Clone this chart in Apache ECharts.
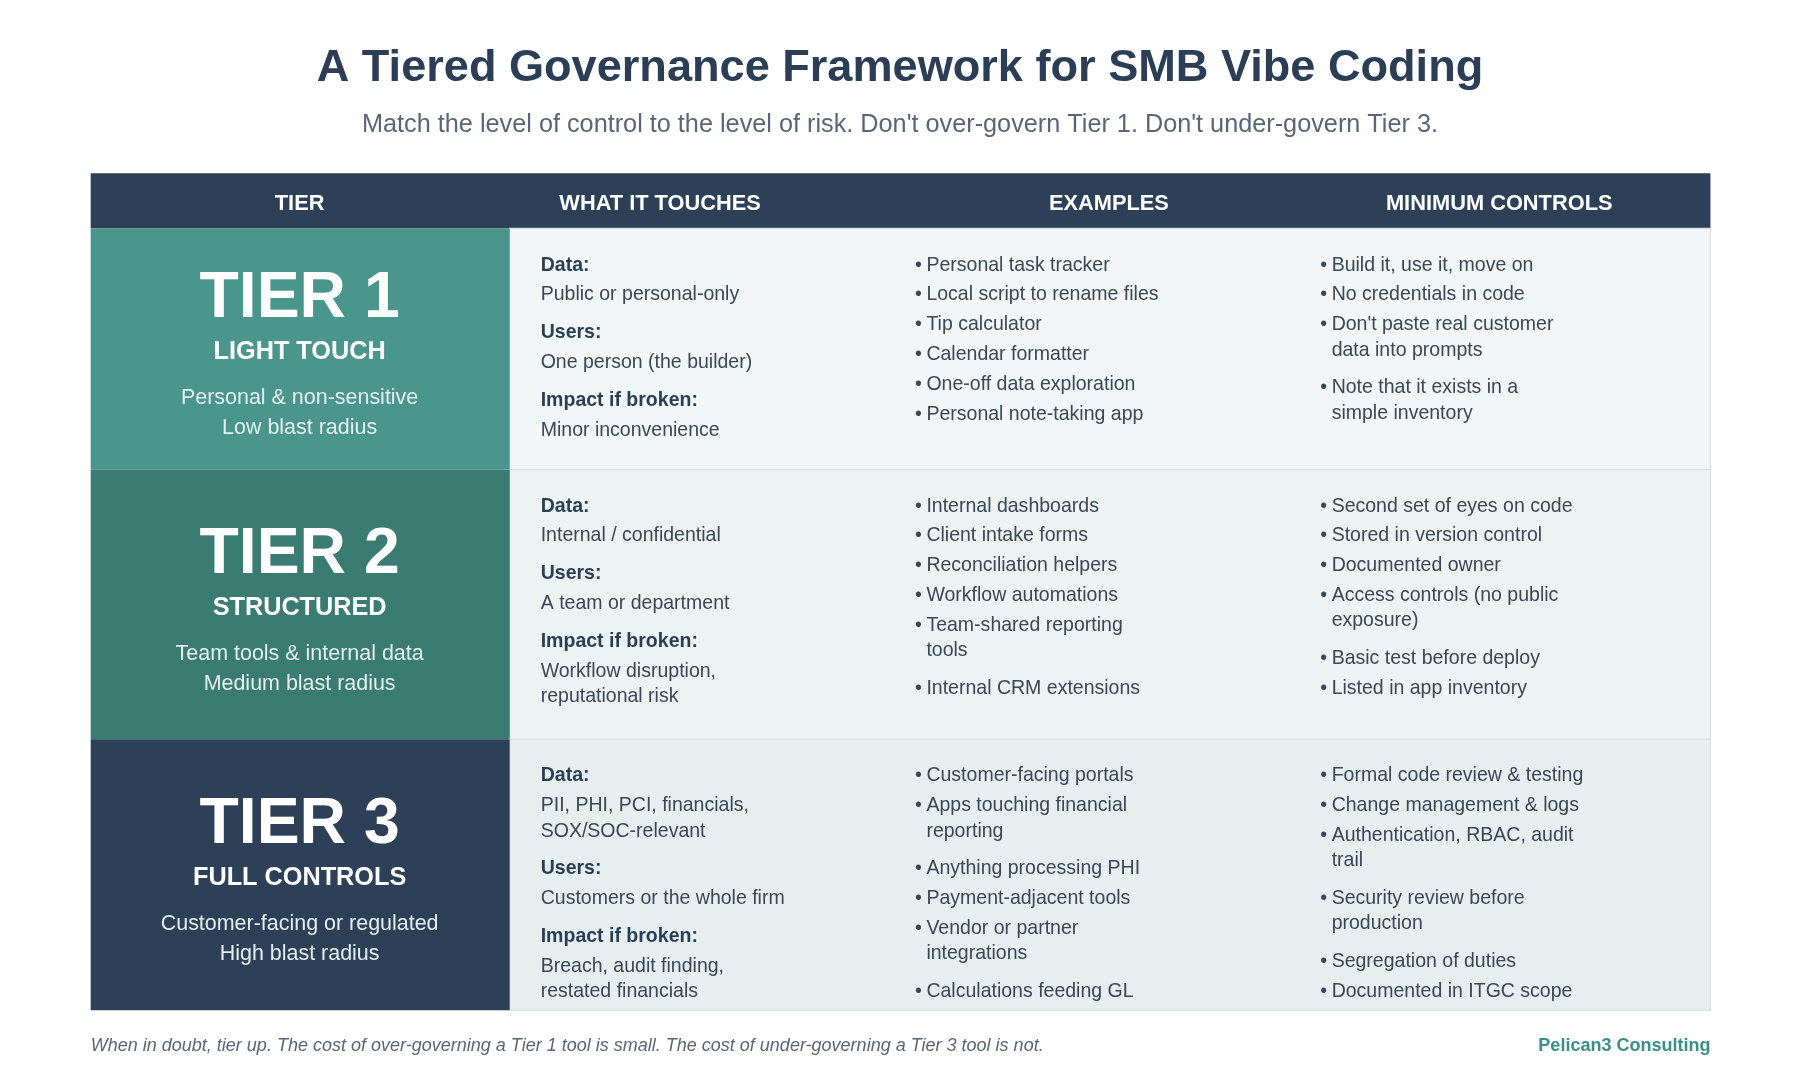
<!DOCTYPE html>
<html><head><meta charset="utf-8">
<script src="https://cdn.jsdelivr.net/npm/echarts@6/dist/echarts.min.js"></script>
<style>html,body{margin:0;padding:0;background:#fff}#c{width:1800px;height:1080px}</style>
</head><body><div id="c"></div>
<script>
const title = "A Tiered Governance Framework for SMB Vibe Coding";
const subtitle = "Match the level of control to the level of risk. Don't over-govern Tier 1. Don't under-govern Tier 3.";
const headers = ["TIER", "WHAT IT TOUCHES", "EXAMPLES", "MINIMUM CONTROLS"];
const tierNames = ["TIER 1", "TIER 2", "TIER 3"];
const tierSubs = ["LIGHT TOUCH", "STRUCTURED", "FULL CONTROLS"];
const tierDesc = [
  ["Personal & non-sensitive", "Low blast radius"],
  ["Team tools & internal data", "Medium blast radius"],
  ["Customer-facing or regulated", "High blast radius"]
];
const touches = [
  [["Data:", ["Public or personal-only"]], ["Users:", ["One person (the builder)"]], ["Impact if broken:", ["Minor inconvenience"]]],
  [["Data:", ["Internal / confidential"]], ["Users:", ["A team or department"]], ["Impact if broken:", ["Workflow disruption,", "reputational risk"]]],
  [["Data:", ["PII, PHI, PCI, financials,", "SOX/SOC-relevant"]], ["Users:", ["Customers or the whole firm"]], ["Impact if broken:", ["Breach, audit finding,", "restated financials"]]]
];
const examples = [
  [["Personal task tracker"], ["Local script to rename files"], ["Tip calculator"], ["Calendar formatter"], ["One-off data exploration"], ["Personal note-taking app"]],
  [["Internal dashboards"], ["Client intake forms"], ["Reconciliation helpers"], ["Workflow automations"], ["Team-shared reporting", "tools"], ["Internal CRM extensions"]],
  [["Customer-facing portals"], ["Apps touching financial", "reporting"], ["Anything processing PHI"], ["Payment-adjacent tools"], ["Vendor or partner", "integrations"], ["Calculations feeding GL"]]
];
const controls = [
  [["Build it, use it, move on"], ["No credentials in code"], ["Don't paste real customer", "data into prompts"], ["Note that it exists in a", "simple inventory"]],
  [["Second set of eyes on code"], ["Stored in version control"], ["Documented owner"], ["Access controls (no public", "exposure)"], ["Basic test before deploy"], ["Listed in app inventory"]],
  [["Formal code review & testing"], ["Change management & logs"], ["Authentication, RBAC, audit", "trail"], ["Security review before", "production"], ["Segregation of duties"], ["Documented in ITGC scope"]]
];
const footnote = "When in doubt, tier up. The cost of over-governing a Tier 1 tool is small. The cost of under-governing a Tier 3 tool is not.";
const brand = "Pelican3 Consulting";

const FF = '"Liberation Sans", Arial, sans-serif';
const DARK = '#2e4058', TXT = '#3b4656';
const tierColors = ['#4a968c', '#3a7b72', '#2e4058'];
const rowBg = ['#f2f6f6', '#edf3f3', '#e7eef0'];
const rowY = [199, 409, 644, 880];
const L = 79, R = 1490, split = 444;
const DY = 2;
const els = [];
function T(x, y, text, size, color, opts) {
  opts = opts || {};
  els.push({type: 'text', x: x, y: y + DY, style: {text: text, fontSize: size, fill: color, fontFamily: FF,
    fontWeight: opts.bold ? 'bold' : 'normal', fontStyle: opts.italic ? 'italic' : 'normal',
    textAlign: opts.align || 'left', textVerticalAlign: 'middle'}});
}
T(784, 58, title, 39.3, '#2c3e55', {bold: true, align: 'center'});
T(784, 107, subtitle, 22, '#5a6678', {align: 'center'});
els.push({type: 'rect', shape: {x: L, y: 151, width: R - L, height: 48}, style: {fill: DARK}});
[261, 575, 966, 1306].forEach((cx, i) => T(cx, 176, headers[i], 19, '#fff', {bold: true, align: 'center'}));
for (let r = 0; r < 3; r++) {
  const y0 = rowY[r], h = rowY[r + 1] - y0;
  els.push({type: 'rect', shape: {x: split, y: y0, width: R - split, height: h}, style: {fill: rowBg[r], stroke: '#d5dfe0', lineWidth: 1}});
  els.push({type: 'rect', shape: {x: L, y: y0, width: split - L, height: h}, style: {fill: tierColors[r]}});
  const cy = y0 + h / 2;
  T(261, cy - 45, tierNames[r], 56, '#fff', {bold: true, align: 'center'});
  T(261, cy + 1, tierSubs[r], 22, '#fff', {bold: true, align: 'center'});
  T(261, cy + 41, tierDesc[r][0], 18.7, '#e3efee', {align: 'center'});
  T(261, cy + 67, tierDesc[r][1], 18.7, '#e3efee', {align: 'center'});
  let y = y0 + 30;
  touches[r].forEach(([lab, vals]) => {
    T(471, y, lab, 17, '#2c3e55', {bold: true});
    y += 26;
    vals.forEach((v, k) => { T(471, y, v, 17, TXT); if (k < vals.length - 1) y += 22; });
    y += 33;
  });
  [[examples, 797], [controls, 1150]].forEach(([arr, x]) => {
    let yy = y0 + 30;
    arr[r].forEach(lines => {
      T(x, yy, '\u2022', 17, TXT);
      lines.forEach((ln, k) => { T(x + 10, yy, ln, 17, TXT); if (k < lines.length - 1) yy += 22; });
      yy += lines.length > 1 ? 33 : 26;
    });
  });
}
T(79, 909, footnote, 15.7, '#5a6678', {italic: true});
T(1490, 909, brand, 15.7, '#3a8f86', {bold: true, align: 'right'});

const chart = echarts.init(document.getElementById('c'));
const s = 1800 / 1568;
chart.setOption({graphic: [{type: 'group', scaleX: s, scaleY: s, x: 0, y: 0, children: els}]});
</script></body></html>
